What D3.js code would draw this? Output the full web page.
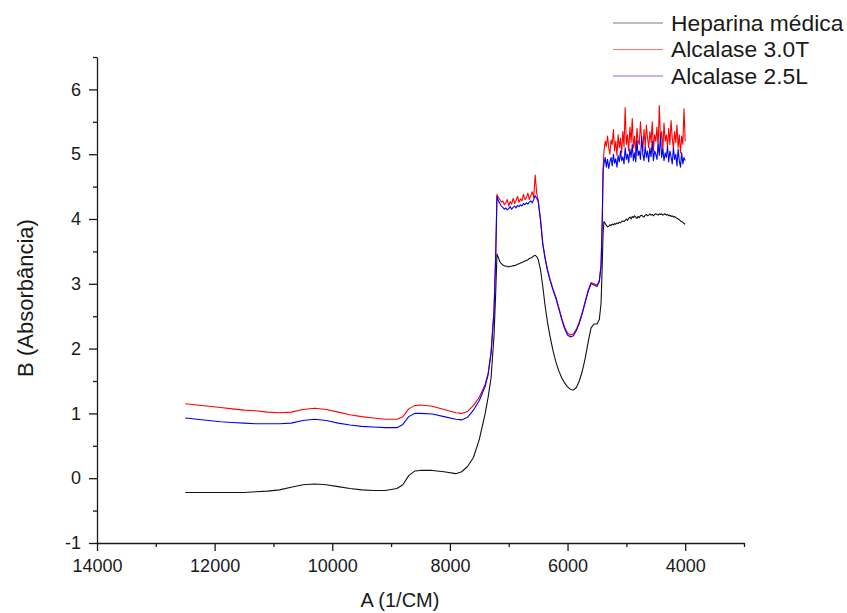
<!DOCTYPE html>
<html>
<head>
<meta charset="utf-8">
<script src="https://cdn.jsdelivr.net/npm/d3@7"></script>
<style>
  body { margin: 0; background: #fff; }
  svg { display: block; }
  text { font-family: "Liberation Sans", Arial, sans-serif; fill: #1a1a1a; }
</style>
</head>
<body>
<svg id="chart" width="847" height="613"></svg>
<script>
// Wavenumber grid (1/cm), shared by the three spectra
const wavenumber = [
  12500, 12300, 12100, 11900, 11700, 11500, 11300, 11100, 10900, 10700,
  10500, 10300, 10100, 9900, 9700, 9500, 9300, 9100, 8900,
  8800, 8700, 8600, 8500, 8300, 8100, 7900,
  7800, 7700, 7600, 7500, 7400, 7350, 7300, 7250, 7220,
  7200, 7175, 7150, 7125, 7100, 7075, 7050, 7025, 7000, 6975,
  6950, 6925, 6900, 6875, 6850, 6825, 6800, 6775, 6750, 6725,
  6700, 6675, 6650, 6625, 6600, 6575, 6550, 6525, 6500,
  6460, 6420, 6380, 6340, 6300, 6250, 6200, 6150, 6100, 6050,
  6000, 5950, 5900, 5850, 5800, 5750, 5700, 5650, 5600, 5550,
  5500, 5460, 5430, 5410, 5395,
  5380, 5360, 5340, 5320, 5300, 5280, 5260, 5240, 5220, 5200,
  5180, 5160, 5140, 5120, 5100, 5080, 5060, 5040, 5020, 5000,
  4980, 4960, 4940, 4920, 4900, 4880, 4860, 4840, 4820, 4800,
  4780, 4760, 4740, 4720, 4700, 4680, 4660, 4640, 4620, 4600,
  4580, 4560, 4540, 4520, 4500, 4480, 4460, 4440, 4420, 4400,
  4380, 4360, 4340, 4320, 4300, 4280, 4260, 4240, 4220, 4200,
  4180, 4160, 4140, 4120, 4100, 4080, 4060, 4040, 4020, 4000
];

// Absorbance, Heparina médica
const heparina = [
  -0.22, -0.22, -0.22, -0.22, -0.22, -0.22, -0.21, -0.2, -0.18, -0.14,
  -0.1, -0.09, -0.1, -0.13, -0.16, -0.18, -0.19, -0.19, -0.16,
  -0.1, 0.04, 0.11, 0.12, 0.12, 0.1, 0.07,
  0.1, 0.18, 0.32, 0.6, 1.0, 1.25, 1.55, 2.2, 2.9,
  3.46, 3.4, 3.34, 3.31, 3.29, 3.28, 3.27, 3.27, 3.26, 3.27,
  3.27, 3.28, 3.28, 3.29, 3.3, 3.31, 3.32, 3.33, 3.34, 3.35,
  3.36, 3.37, 3.39, 3.4, 3.41, 3.43, 3.44, 3.42, 3.38,
  3.22, 2.95, 2.65, 2.4, 2.2, 1.98, 1.8, 1.66, 1.55, 1.47,
  1.41, 1.37, 1.36, 1.4, 1.5, 1.65, 1.85, 2.1, 2.32, 2.38,
  2.38, 2.45, 2.7, 3.3, 3.8,
  3.96, 3.93, 3.9, 3.88, 3.89, 3.91, 3.9, 3.92, 3.91, 3.93,
  3.92, 3.94, 3.93, 3.95, 3.94, 3.96, 3.97, 3.96, 3.98, 4.0,
  3.98, 4.01, 4.03, 4.0, 4.04, 4.02, 4.05, 4.03, 4.01, 4.04,
  4.02, 4.05, 4.06, 4.04, 4.03, 4.06, 4.07, 4.05, 4.06, 4.08,
  4.06, 4.07, 4.05, 4.07, 4.08, 4.07, 4.06, 4.08, 4.07, 4.08,
  4.06, 4.07, 4.08, 4.06, 4.07, 4.05, 4.06, 4.04, 4.05, 4.03,
  4.04, 4.02, 4.01, 4.0, 3.99, 3.97, 3.96, 3.95, 3.93, 3.92
];

// Absorbance, Alcalase 3.0T
const alcalase30T = [
  1.15, 1.13, 1.11, 1.09, 1.07, 1.05, 1.04, 1.02, 1.01, 1.02,
  1.06, 1.08, 1.06, 1.02, 0.98, 0.95, 0.93, 0.91, 0.91,
  0.95, 1.07, 1.12, 1.13, 1.11, 1.06, 1.01,
  1.0, 1.03, 1.12, 1.25, 1.45, 1.62, 1.95, 2.6, 3.5,
  4.38, 4.33, 4.3, 4.26, 4.28, 4.22, 4.25, 4.3, 4.2, 4.27,
  4.23, 4.32, 4.24, 4.29, 4.35, 4.26, 4.31, 4.28, 4.38, 4.3,
  4.33, 4.4, 4.3, 4.36, 4.42, 4.33, 4.68, 4.4, 4.3,
  4.0, 3.62, 3.4, 3.22, 3.08, 2.93, 2.8, 2.64, 2.47, 2.33,
  2.24, 2.21, 2.23, 2.3, 2.41, 2.56, 2.73, 2.9, 3.02, 3.0,
  2.98, 3.05, 3.3, 4.0, 4.8,
  5.05, 5.2, 5.12, 5.28, 5.1, 5.0, 5.22, 5.15, 5.38, 5.05,
  5.2, 4.98, 5.3, 5.1, 5.25, 5.02, 5.35, 5.12, 5.72, 5.15,
  5.3, 5.05, 5.42, 5.18, 5.55, 5.1, 5.28, 5.0, 5.4, 5.2,
  5.15, 5.5, 5.22, 5.05, 5.38, 5.12, 5.45, 5.25, 5.1, 5.35,
  5.18, 5.5, 5.05, 5.3, 5.2, 5.42, 5.1, 5.75, 5.22, 5.35,
  5.05, 5.48, 5.2, 5.3, 5.1, 5.4, 5.15, 5.52, 5.25, 5.08,
  5.35, 5.18, 5.45, 5.1, 5.3, 5.02, 5.28, 5.15, 5.7, 5.2
];

// Absorbance, Alcalase 2.5L
const alcalase25L = [
  0.93, 0.91, 0.89, 0.87, 0.86, 0.85, 0.84, 0.84, 0.84, 0.85,
  0.89, 0.91, 0.89, 0.85, 0.82, 0.8, 0.79, 0.78, 0.78,
  0.83, 0.95, 1.0, 1.0, 0.99, 0.95, 0.91,
  0.9, 0.94, 1.05, 1.2, 1.42, 1.6, 1.93, 2.58, 3.48,
  4.35, 4.28, 4.24, 4.2, 4.18, 4.15, 4.17, 4.14, 4.16, 4.19,
  4.15, 4.18, 4.2, 4.17, 4.21, 4.19, 4.22, 4.2, 4.24, 4.22,
  4.25, 4.23, 4.26, 4.28, 4.25, 4.3, 4.36, 4.32, 4.28,
  3.98, 3.6, 3.38, 3.2, 3.06, 2.91, 2.78, 2.62, 2.45, 2.31,
  2.21, 2.18, 2.2, 2.28, 2.39, 2.54, 2.71, 2.88, 3.0, 2.98,
  2.96, 3.03, 3.28, 3.95, 4.75,
  4.85, 4.95, 4.8, 4.92, 4.78, 4.88, 4.95, 4.82, 5.0, 4.86,
  4.93, 4.8, 4.98, 4.88, 5.05, 4.9, 4.96, 4.85, 5.1, 4.92,
  5.0, 4.87, 5.08, 4.95, 5.15, 4.9, 5.02, 4.88, 5.22, 4.98,
  5.05, 4.92, 5.28, 5.0, 4.9, 5.12, 4.95, 5.05, 4.88, 5.1,
  4.96, 5.2, 4.9, 5.05, 5.0, 4.92, 5.15, 4.98, 5.3, 4.95,
  5.08, 4.9, 5.02, 4.95, 5.12, 4.88, 5.05, 4.96, 4.85, 5.1,
  4.92, 5.0, 4.82, 5.08, 4.9, 4.8, 5.02, 4.85, 4.95, 4.9
];

const seriesNames = ["Heparina médica", "Alcalase 3.0T", "Alcalase 2.5L"];
const seriesColors = ["#111111", "#ff0000", "#0000ff"];

const xMajorTicks = [14000, 12000, 10000, 8000, 6000, 4000];
const xMinorTicks = [13000, 11000, 9000, 7000, 5000, 3000];
const yMajorTicks = [-1, 0, 1, 2, 3, 4, 5, 6];
const yMinorTicks = [-0.5, 0.5, 1.5, 2.5, 3.5, 4.5, 5.5, 6.5];

const xTitle = "A (1/CM)";
const yTitle = "B (Absorbância)";

const svg = d3.select("#chart");

// Plot frame
const plotLeft = 97, plotRight = 744, plotTop = 57, plotBottom = 543;

const x = d3.scaleLinear().domain([14000, 3000]).range([plotLeft, plotRight]);
const y = d3.scaleLinear().domain([-1, 6.5]).range([plotBottom, plotTop]);

// Spectra
const seriesValues = [heparina, alcalase30T, alcalase25L];
const line = d3.line()
  .x(d => x(d[0]))
  .y(d => y(d[1]));

svg.append("g")
  .selectAll("path")
  .data(seriesValues)
  .join("path")
  .attr("d", vals => line(wavenumber.map((w, i) => [w, vals[i]])))
  .attr("fill", "none")
  .attr("stroke", (d, i) => seriesColors[i])
  .attr("stroke-width", 1.1)
  .attr("stroke-linejoin", "round");

// Axes (plain hyphen for negative labels)
const tickFont = "18px";
const fontStack = '"Liberation Sans", Arial, sans-serif';
const plainFormat = d => String(d);

const xAxis = svg.append("g").attr("transform", `translate(0,${plotBottom})`);
xAxis.call(d3.axisBottom(x).tickValues(xMinorTicks).tickSize(4).tickFormat(""))
  .call(g => g.select(".domain").remove());
xAxis.append("g").call(d3.axisBottom(x).tickValues(xMajorTicks).tickSize(8).tickSizeOuter(0).tickPadding(8).tickFormat(plainFormat))
  .call(g => g.selectAll("text").attr("font-size", tickFont).attr("fill", "#1a1a1a").style("font-family", fontStack));

const yAxis = svg.append("g").attr("transform", `translate(${plotLeft},0)`);
yAxis.call(d3.axisLeft(y).tickValues(yMinorTicks).tickSize(4).tickFormat(""))
  .call(g => g.select(".domain").remove());
yAxis.append("g").call(d3.axisLeft(y).tickValues(yMajorTicks).tickSize(8).tickSizeOuter(0).tickPadding(8).tickFormat(plainFormat))
  .call(g => g.selectAll("text").attr("font-size", tickFont).attr("fill", "#1a1a1a").style("font-family", fontStack));

svg.selectAll(".domain, .tick line")
  .attr("stroke", "#1a1a1a")
  .attr("stroke-width", 1.3);

// Axis titles
svg.append("text")
  .attr("x", 400)
  .attr("y", 607)
  .attr("text-anchor", "middle")
  .attr("font-size", "20px")
  .text(xTitle);

svg.append("text")
  .attr("transform", "translate(33,298) rotate(-90)")
  .attr("text-anchor", "middle")
  .attr("font-size", "22px")
  .text(yTitle);

// Legend
const legend = svg.append("g").attr("transform", "translate(613,23)");
const rows = legend.selectAll("g")
  .data(seriesNames)
  .join("g")
  .attr("transform", (d, i) => `translate(0,${i * 26.5})`);
rows.append("line")
  .attr("x1", 0).attr("x2", 50)
  .attr("stroke", (d, i) => seriesColors[i])
  .attr("stroke-opacity", 0.55)
  .attr("stroke-width", 1.2);
rows.append("text")
  .attr("x", 58)
  .attr("dy", "0.35em")
  .attr("font-size", "22.8px")
  .text(d => d);
</script>
</body>
</html>
